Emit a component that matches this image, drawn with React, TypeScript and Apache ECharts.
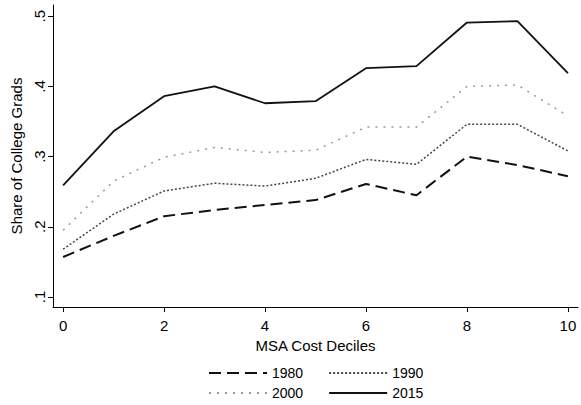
import React, { useEffect, useRef } from "react";
import * as echarts from "echarts";

const deciles = [0, 1, 2, 3, 4, 5, 6, 7, 8, 9, 10];
const s1980 = [0.157, 0.187, 0.215, 0.224, 0.231, 0.238, 0.261, 0.245, 0.300, 0.288, 0.272];
const s1990 = [0.168, 0.218, 0.251, 0.262, 0.258, 0.269, 0.296, 0.289, 0.346, 0.346, 0.308];
const s2000 = [0.195, 0.265, 0.299, 0.313, 0.306, 0.309, 0.342, 0.342, 0.400, 0.402, 0.358];
const s2015 = [0.259, 0.336, 0.386, 0.400, 0.376, 0.379, 0.426, 0.429, 0.491, 0.493, 0.419];
const xTicks = [0, 2, 4, 6, 8, 10];
const yTicks = [0.1, 0.2, 0.3, 0.4, 0.5];

const FONT = "Liberation Sans";

export default function App() {
  const ref = useRef<HTMLDivElement>(null);
  useEffect(() => {
    if (!ref.current) return;
    const chart = echarts.init(ref.current, null, { renderer: "svg" });
    const mk = (name: string, vals: number[], color: string, width: number, type: any) => ({
      name,
      type: "line",
      data: deciles.map((d, i) => [d, vals[i]]),
      symbol: "none",
      lineStyle: { color, width, type },
      itemStyle: { color },
    });
    const legendBase = {
      left: 203,
      itemWidth: 58,
      itemHeight: 10,
      itemGap: 25,
      itemStyle: { opacity: 0 },
      textStyle: { fontSize: 14, color: "#000", fontFamily: FONT },
    };
    chart.setOption({
      animation: false,
      backgroundColor: "#fff",
      textStyle: { fontFamily: FONT },
      grid: { left: 53, right: 3, top: 5, bottom: 98 },
      xAxis: {
        type: "value",
        min: -0.2,
        max: 10.2,
        name: "MSA Cost Deciles",
        nameLocation: "middle",
        nameGap: 26,
        nameTextStyle: { fontSize: 15, color: "#000", fontFamily: FONT },
        axisLine: { show: true, onZero: false, lineStyle: { color: "#000", width: 1 } },
        axisTick: { show: true, customValues: xTicks, length: 5, lineStyle: { color: "#000" } },
        axisLabel: { customValues: xTicks, fontSize: 15, color: "#000", margin: 11, fontFamily: FONT },
        splitLine: { show: false },
      },
      yAxis: {
        type: "value",
        min: 0.0857,
        max: 0.516,
        name: "Share of College Grads",
        nameLocation: "middle",
        nameGap: 26,
        nameRotate: 90,
        nameTextStyle: { fontSize: 15, color: "#000", fontFamily: FONT },
        axisLine: { show: true, onZero: false, lineStyle: { color: "#000", width: 1 } },
        axisTick: { show: true, customValues: yTicks, length: 5, lineStyle: { color: "#000" } },
        axisLabel: {
          customValues: yTicks,
          fontSize: 15,
          color: "#000",
          rotate: 90,
          margin: 6,
          fontFamily: FONT,
          formatter: (v: number) => "." + Math.round(v * 10),
        },
        splitLine: { show: false },
      },
      legend: [
        { ...legendBase, data: ["1980", "1990"], top: 361 },
        { ...legendBase, data: ["2000", "2015"], top: 381 },
      ],
      series: [
        mk("1980", s1980, "#111", 2, [12, 6]),
        mk("1990", s1990, "#444", 1.5, [2, 2]),
        mk("2000", s2000, "#999", 1.5, [2, 6]),
        mk("2015", s2015, "#111", 1.8, "solid"),
      ],
    });
    return () => chart.dispose();
  }, []);
  return <div ref={ref} style={{ width: 581, height: 405, position: "absolute", left: 0, top: 0 }} />;
}
